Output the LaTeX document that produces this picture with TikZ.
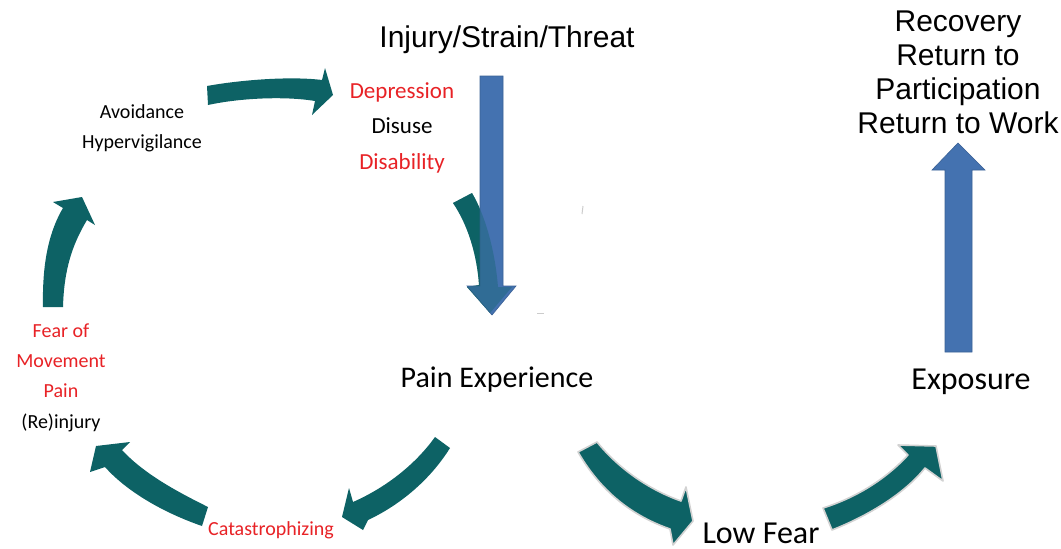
\documentclass[tikz,border=0pt]{standalone}
\usepackage{fontspec}
\setmainfont{Carlito}
\newfontfamily\arialf{Liberation Sans}
\definecolor{teal1}{RGB}{13,98,101}
\definecolor{blue1}{RGB}{68,114,176}
\definecolor{red1}{RGB}{232,34,38}
\tikzset{
  lbl/.style={inner sep=0pt, anchor=base, font=\fontsize{20}{24}\selectfont},
  redlbl/.style={lbl, text=red1},
  midlbl/.style={inner sep=0pt, anchor=base, font=\fontsize{23}{27}\selectfont},
  bigl/.style={inner sep=0pt, anchor=base, font=\fontsize{30}{36}\selectfont},
  hugel/.style={inner sep=0pt, anchor=base, font=\fontsize{32}{38}\selectfont},
  ariall/.style={inner sep=0pt, anchor=base, font=\arialf\fontsize{30}{36}\selectfont},
  tealarrow/.style={fill=teal1},
  glowarrow/.style={fill=teal1, draw=gray!35, line width=1.6pt, line join=round},
  bluearrow/.style={fill=blue1, draw=blue1!85!black, line width=0.6pt},
}
\begin{document}
\begin{tikzpicture}[x=1pt,y=-1pt]
\useasboundingbox (0,0) rectangle (1061,549);
\fill[white] (0,0) rectangle (1061,549);

% texts
\node[ariall] (inj) at (507,47) {Injury/Strain/Threat};
\node[ariall] (rec1) at (958,31) {Recovery};
\node[ariall] (rec2) at (958,65) {Return to};
\node[ariall] (rec3) at (958,99) {Participation};
\node[ariall] (rec4) at (958,133) {Return to Work};

\node[midlbl, text=red1] (dep) at (402,98) {Depression};
\node[midlbl] (dis) at (402,133) {Disuse};
\node[midlbl, text=red1] (dsb) at (402,169) {Disability};

\node[lbl] (avo) at (142,118) {Avoidance};
\node[lbl] (hyp) at (142,148) {Hypervigilance};

\node[redlbl] (fear) at (61,337) {Fear of};
\node[redlbl] (mov) at (61,367) {Movement};
\node[redlbl] (pain) at (61,397) {Pain};
\node[lbl] (rei) at (61,428) {(Re)injury};

\node[redlbl] (cat) at (271,535) {Catastrophizing};
\node[bigl] (pe) at (497,387) {Pain Experience};
\node[hugel] (low) at (761,543) {Low Fear};
\node[hugel] (exp) at (971,389) {Exposure};

% cycle arrows
\fill[tealarrow] (207,86) .. controls (240,80) and (290,76) .. (322,80)
  -- (325,68) -- (333,95) -- (312,115) -- (315,101)
  .. controls (285,96) and (240,98) .. (208,105) -- cycle;

\fill[tealarrow] (453,203) .. controls (468,225) and (477,255) .. (479,285)
  -- (467,287) -- (490,313) -- (512,287) -- (498,287)
  .. controls (495,250) and (485,215) .. (472,193) -- cycle;

\fill[tealarrow] (435,437) .. controls (415,465) and (385,488) .. (353,502)
  -- (349,488) -- (342,517) -- (363,530) -- (368,520)
  .. controls (400,505) and (430,480) .. (450,448) -- cycle;

\fill[tealarrow] (208,507) .. controls (180,493) and (145,475) .. (122,450)
  -- (130,442) -- (96,446) -- (90,472) -- (105,467)
  .. controls (130,495) and (170,515) .. (202,526) -- cycle;

\fill[tealarrow] (43,307) .. controls (42,260) and (50,230) .. (63,208)
  -- (53,202) -- (82,197) -- (95,225) -- (87,220)
  .. controls (72,245) and (64,270) .. (63,307) -- cycle;

% low fear arrows
\filldraw[glowarrow] (597,442) .. controls (620,470) and (650,490) .. (681,501)
  -- (686,487) -- (693,521) -- (673,545) -- (670,529)
  .. controls (630,515) and (600,490) .. (578,452) -- cycle;

\filldraw[glowarrow] (823,508) .. controls (855,498) and (885,480) .. (908,455)
  -- (898,445) -- (936,446) -- (943,481) -- (925,468)
  .. controls (905,493) and (870,515) .. (832,530) -- cycle;

% blue arrows
\filldraw[bluearrow] (480,76) -- (503,76) -- (503,286) -- (516,286)
  -- (492,315) -- (467,286) -- (480,286) -- cycle;
% teal arrow showing through the blue one
\fill[tealarrow, fill opacity=0.35] (453,203) .. controls (468,225) and (477,255) .. (479,285)
  -- (467,287) -- (490,313) -- (512,287) -- (498,287)
  .. controls (495,250) and (485,215) .. (472,193) -- cycle;

\filldraw[bluearrow] (945,352) -- (972,352) -- (972,170) -- (985,170)
  -- (958,143) -- (932,170) -- (945,170) -- cycle;

% faint marks
\draw[gray!40, line width=1pt] (583,206) -- (582,214);
\draw[gray!40, line width=1pt] (537,313) -- (544,313);
\end{tikzpicture}
\end{document}
